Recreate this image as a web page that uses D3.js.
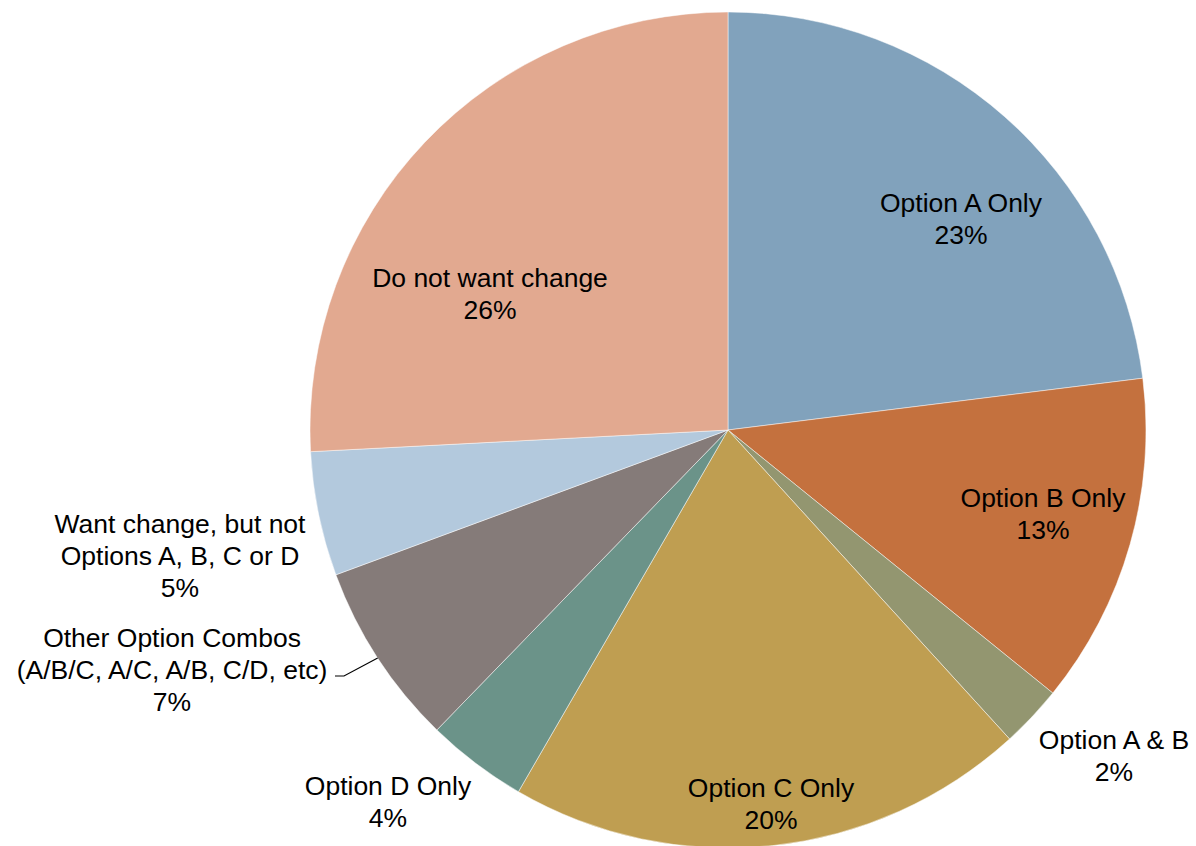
<!DOCTYPE html>
<html>
<head>
<meta charset="utf-8">
<script src="https://cdn.jsdelivr.net/npm/d3@7"></script>
<style>
  body { margin: 0; background: #fff; }
  svg { display: block; }
  .slice-label { font-family: "Liberation Sans", Arial, sans-serif; font-size: 26.5px; fill: #000; }
</style>
</head>
<body>
<svg id="chart"></svg>
<script>
(function() {

  const categories = [
    ['Option A Only'],
    ['Option B Only'],
    ['Option A & B'],
    ['Option C Only'],
    ['Option D Only'],
    ['Other Option Combos', '(A/B/C, A/C, A/B, C/D, etc)'],
    ['Want change, but not', 'Options A, B, C or D'],
    ['Do not want change']
  ];
  const values = [23.0, 12.8, 2.4, 20.1, 3.9, 7.1, 4.8, 25.8];
  const colors = ['#81a2bc', '#c4713e', '#939670', '#bf9e51', '#6b9389', '#857b79', '#b3c9dd', '#e2a990'];

  const width = 1196;
  const height = 846;
  const cx = 728;
  const cy = 430;
  const radius = 418;
  const lineHeight = 32;

  // label anchor: centre x and first baseline, relative to the pie centre
  const labelAnchors = [
    [233, -218],
    [315, 77],
    [386, 319],
    [43, 367],
    [-340, 365],
    [-556, 217],
    [-548, 103],
    [-238, -143]
  ];

  const svg = d3.select('#chart')
    .attr('width', width)
    .attr('height', height);

  const g = svg.append('g')
    .attr('transform', 'translate(' + cx + ',' + cy + ')');

  const pie = d3.pie().sort(null).value(function(d) { return d; });
  const arcs = pie(values);

  const arc = d3.arc().innerRadius(0).outerRadius(radius);
  const edge = d3.arc().innerRadius(radius).outerRadius(radius);

  g.selectAll('path.slice')
    .data(arcs)
    .enter()
    .append('path')
    .attr('class', 'slice')
    .attr('d', arc)
    .attr('fill', function(d, i) { return colors[i]; })
    .attr('stroke', '#ffffff')
    .attr('stroke-opacity', 0.6)
    .attr('stroke-width', 0.8);

  // leader line for the "Other Option Combos" label
  const otherIdx = 5;
  const tip = edge.centroid(arcs[otherIdx]);
  const lx = labelAnchors[otherIdx][0] + 163;
  const ly = labelAnchors[otherIdx][1] + 29;
  g.append('path')
    .attr('d', 'M' + lx + ',' + ly + 'H' + (lx + 9) + 'L' + tip[0] + ',' + tip[1])
    .attr('fill', 'none')
    .attr('stroke', '#000')
    .attr('stroke-width', 1.2);

  const labels = g.selectAll('text.slice-label')
    .data(arcs)
    .enter()
    .append('text')
    .attr('class', 'slice-label')
    .attr('text-anchor', 'middle')
    .attr('x', function(d, i) { return labelAnchors[i][0]; })
    .attr('y', function(d, i) { return labelAnchors[i][1]; });

  labels.each(function(d, i) {
    const t = d3.select(this);
    const lines = categories[i].concat([Math.round(values[i]) + '%']);
    lines.forEach(function(line, j) {
      t.append('tspan')
        .attr('x', labelAnchors[i][0])
        .attr('y', labelAnchors[i][1] + j * lineHeight)
        .text(line);
    });
  });

})();
</script>
</body>
</html>
